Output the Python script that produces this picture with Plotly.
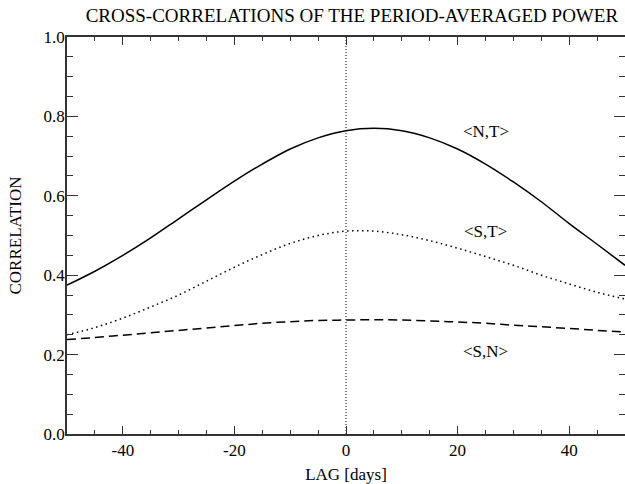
import plotly.graph_objects as go

# lag in days
lags = [-50, -45, -40, -35, -30, -25, -20, -15, -10, -5, 0, 5, 10, 15, 20, 25, 30, 35, 40, 45, 50]

# values
corr_nt = [0.375, 0.410, 0.450, 0.494, 0.542, 0.590, 0.637, 0.680, 0.718, 0.746, 0.764,
           0.770, 0.764, 0.746, 0.718, 0.680, 0.635, 0.585, 0.530, 0.478, 0.425]
corr_st = [0.250, 0.268, 0.292, 0.320, 0.350, 0.385, 0.420, 0.452, 0.480, 0.500, 0.511,
           0.511, 0.502, 0.487, 0.468, 0.447, 0.425, 0.400, 0.378, 0.357, 0.340]
corr_sn = [0.238, 0.243, 0.249, 0.255, 0.261, 0.267, 0.273, 0.279, 0.283, 0.286, 0.287,
           0.288, 0.287, 0.285, 0.282, 0.279, 0.274, 0.270, 0.266, 0.261, 0.257]

x_ticks = [-40, -20, 0, 20, 40]
x_ticktext = ["-40", "-20", "0", "20", "40"]

labels = ["<N,T>", "<S,T>", "<S,N>"]
label_y = [0.763, 0.511, 0.207]
label_x = 25

FONT = "Liberation Serif"
INK = "black"
AXIS = "#333"

fig = go.Figure()

# zero-lag marker
fig.add_trace(go.Scatter(x=[0, 0], y=[0, 1], mode="lines",
                         line=dict(color=INK, width=1, dash="1px,2px"),
                         showlegend=False, hoverinfo="skip"))

fig.add_trace(go.Scatter(x=lags, y=corr_nt, mode="lines", line_shape="spline",
                         line=dict(color=INK, width=1.5), showlegend=False))
fig.add_trace(go.Scatter(x=lags, y=corr_st, mode="lines", line_shape="spline",
                         line=dict(color=INK, width=1.5, dash="1.5px,3.5px"), showlegend=False))
fig.add_trace(go.Scatter(x=lags, y=corr_sn, mode="lines", line_shape="spline",
                         line=dict(color=INK, width=1.5, dash="9px,5px"), showlegend=False))

for txt, yy in zip(labels, label_y):
    fig.add_annotation(x=label_x, y=yy, text=txt.replace("<", "&lt;").replace(">", "&gt;"),
                       showarrow=False, font=dict(family=FONT, size=17, color=INK))

axis_common = dict(
    showgrid=False, zeroline=False, showline=True, linecolor=AXIS, linewidth=1.5,
    mirror="allticks", ticks="inside", tickcolor=AXIS, tickwidth=1, automargin=False,
    tickfont=dict(family=FONT, size=17, color=INK),
)

fig.update_xaxes(range=[-50, 50], tickvals=x_ticks, ticktext=x_ticktext, ticklen=8,
                 minor=dict(dtick=5, tick0=0, ticklen=4, ticks="inside", tickcolor=AXIS),
                 title=dict(text="LAG [days]", font=dict(family=FONT, size=17, color=INK), standoff=12),
                 **axis_common)
fig.update_yaxes(range=[0, 1], dtick=0.2, tickformat=".1f", ticklen=11, ticklabelstandoff=-3,
                 minor=dict(dtick=0.05, ticklen=6, ticks="inside", tickcolor=AXIS),
                 title=dict(text="CORRELATION", font=dict(family=FONT, size=17, color=INK), standoff=18),
                 **axis_common)

fig.update_layout(
    width=625, height=484,
    margin=dict(l=67, r=0, t=37, b=50),
    plot_bgcolor="white", paper_bgcolor="white",
    hovermode=False,
    title=dict(text="CROSS-CORRELATIONS OF THE PERIOD-AVERAGED POWER",
               font=dict(family=FONT, size=19, color=INK),
               x=0.563, xanchor="center", y=0.968, yanchor="middle"),
)

# drop the default page margin so the figure fills the window exactly
fig.write_html("out.html", config={"displayModeBar": False},
               post_script="document.body.style.margin='0';document.body.style.overflow='hidden';")
